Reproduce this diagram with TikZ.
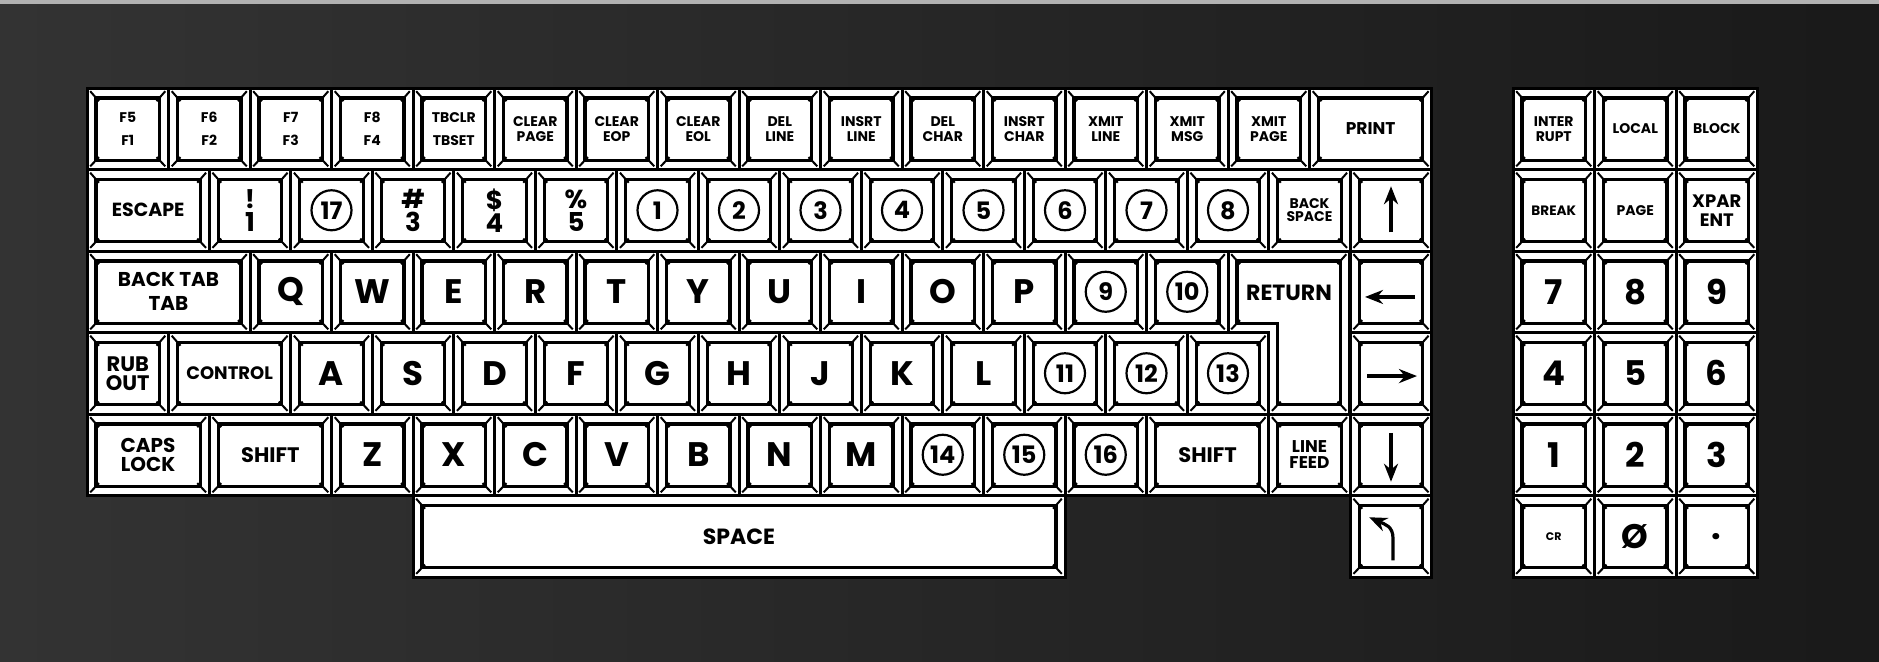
\documentclass[tikz,border=0pt]{standalone}
\usepackage{fontspec}
\setmainfont{Poppins}
\usetikzlibrary{arrows.meta,positioning}

\begin{document}
\begin{tikzpicture}[x=0.5pt,y=-0.5pt,>={Stealth[length=9pt,width=7pt]},
    keycap/.style={draw=black, line width=1.5pt, fill=white, inner sep=0pt, outer sep=0pt,
      minimum width={#1*40.75pt}, minimum height=40.75pt, align=center,
      path picture={
        \draw[line width=1.6pt] ([shift={(4.5pt,-5pt)}]path picture bounding box.north west)
          rectangle ([shift={(-4.5pt,4.6pt)}]path picture bounding box.south east);
        \draw[line width=1pt]
          ([shift={(1.6pt,-1.6pt)}]path picture bounding box.north west) -- ([shift={(6pt,-6.6pt)}]path picture bounding box.north west)
          ([shift={(-1.6pt,-1.6pt)}]path picture bounding box.north east) -- ([shift={(-6pt,-6.6pt)}]path picture bounding box.north east)
          ([shift={(1.6pt,1.6pt)}]path picture bounding box.south west) -- ([shift={(6pt,6.2pt)}]path picture bounding box.south west)
          ([shift={(-1.6pt,1.6pt)}]path picture bounding box.south east) -- ([shift={(-6pt,6.2pt)}]path picture bounding box.south east);
      }},
    keycap/.default=1,
    ring/.style={circle, draw=black, line width=1.1pt, minimum size=20pt, inner sep=0pt,
      font=\bfseries\fontsize{12}{12}\selectfont},
    tinylbl/.style={font=\bfseries\fontsize{7}{7.6}\selectfont},
    midlbl/.style={font=\bfseries\fontsize{10}{10}\selectfont},
    shiftnum/.style={font=\bfseries\fontsize{13}{11.5}\selectfont},
    letter/.style={font=\bfseries\fontsize{17}{17}\selectfont},
    arrowline/.style={line width=1.6pt,->}]
    % ---------- background ----------
    \useasboundingbox (0,0) rectangle (1879,661);
    \shade[left color=black!80, middle color=black, right color=black!90] (0,0) rectangle (1879,661);
    \fill[black!30] (0,0) rectangle (1879,4);
    % ---------- row 1: function keys ----------
    \node[keycap, tinylbl, anchor=north west] (kf5) at (87,88) {F5\\[4pt]F1};
    \node[keycap, tinylbl, right=0pt of kf5] (kf6) {F6\\[4pt]F2};
    \node[keycap, tinylbl, right=0pt of kf6] (kf7) {F7\\[4pt]F3};
    \node[keycap, tinylbl, right=0pt of kf7] (kf8) {F8\\[4pt]F4};
    \node[keycap, tinylbl, right=0pt of kf8] (ktab) {TBCLR\\[4pt]TBSET};
    \node[keycap, tinylbl, right=0pt of ktab] (kclrpage) {CLEAR\\PAGE};
    \node[keycap, tinylbl, right=0pt of kclrpage] (kclreop) {CLEAR\\EOP};
    \node[keycap, tinylbl, right=0pt of kclreop] (kclreol) {CLEAR\\EOL};
    \node[keycap, tinylbl, right=0pt of kclreol] (kdelline) {DEL\\LINE};
    \node[keycap, tinylbl, right=0pt of kdelline] (kinsline) {INSRT\\LINE};
    \node[keycap, tinylbl, right=0pt of kinsline] (kdelchar) {DEL\\CHAR};
    \node[keycap, tinylbl, right=0pt of kdelchar] (kinschar) {INSRT\\CHAR};
    \node[keycap, tinylbl, right=0pt of kinschar] (kxline) {XMIT\\LINE};
    \node[keycap, tinylbl, right=0pt of kxline] (kxmsg) {XMIT\\MSG};
    \node[keycap, tinylbl, right=0pt of kxmsg] (kxpage) {XMIT\\PAGE};
    \node[keycap=1.5, font=\bfseries\fontsize{8.5}{9}\selectfont, right=0pt of kxpage] (kprint) {PRINT};
    % ---------- row 2: numbers ----------
    \node[keycap=1.5, font=\bfseries\fontsize{9.5}{10}\selectfont, anchor=north west] (kesc) at (87,169.5) {ESCAPE};
    \node[keycap, shiftnum, right=0pt of kesc] (kone) {!\\1};
    \node[keycap, right=0pt of kone] (ktwo) {};
    \node[keycap, shiftnum, right=0pt of ktwo] (kthree) {\#\\3};
    \node[keycap, shiftnum, right=0pt of kthree] (kfour) {\$\\4};
    \node[keycap, shiftnum, right=0pt of kfour] (kfive) {\%\\5};
    \node[keycap, right=0pt of kfive] (kc1) {};
    \node[keycap, right=0pt of kc1] (kc2) {};
    \node[keycap, right=0pt of kc2] (kc3) {};
    \node[keycap, right=0pt of kc3] (kc4) {};
    \node[keycap, right=0pt of kc4] (kc5) {};
    \node[keycap, right=0pt of kc5] (kc6) {};
    \node[keycap, right=0pt of kc6] (kc7) {};
    \node[keycap, right=0pt of kc7] (kc8) {};
    \node[keycap, font=\bfseries\fontsize{7}{6.6}\selectfont, right=0pt of kc8] (kbksp) {BACK\\SPACE};
    \node[keycap, right=0pt of kbksp] (kup) {};
    % ---------- row 3: Q row ----------
    \node[keycap=2, midlbl, anchor=north west] (kbtab) at (87,251) {BACK TAB\\[2pt]TAB};
    \node[keycap, letter, right=0pt of kbtab] (kq) {Q};
    \node[keycap, letter, right=0pt of kq] (kw) {W};
    \node[keycap, letter, right=0pt of kw] (ke) {E};
    \node[keycap, letter, right=0pt of ke] (kr) {R};
    \node[keycap, letter, right=0pt of kr] (kt) {T};
    \node[keycap, letter, right=0pt of kt] (ky) {Y};
    \node[keycap, letter, right=0pt of ky] (ku) {U};
    \node[keycap, letter, right=0pt of ku] (ki) {I};
    \node[keycap, letter, right=0pt of ki] (ko) {O};
    \node[keycap, letter, right=0pt of ko] (kp) {P};
    \node[keycap, right=0pt of kp] (kc9) {};
    \node[keycap, right=0pt of kc9] (kc10) {};
    % ---------- row 4: A row ----------
    \node[keycap, font=\bfseries\fontsize{10.5}{9.5}\selectfont, anchor=north west] (krub) at (87,332.5) {RUB\\OUT};
    \node[keycap=1.5, font=\bfseries\fontsize{9}{9}\selectfont, right=0pt of krub] (kctrl) {CONTROL};
    \node[keycap, letter, right=0pt of kctrl] (ka) {A};
    \node[keycap, letter, right=0pt of ka] (ks) {S};
    \node[keycap, letter, right=0pt of ks] (kd) {D};
    \node[keycap, letter, right=0pt of kd] (kf) {F};
    \node[keycap, letter, right=0pt of kf] (kg) {G};
    \node[keycap, letter, right=0pt of kg] (kh) {H};
    \node[keycap, letter, right=0pt of kh] (kj) {J};
    \node[keycap, letter, right=0pt of kj] (kk) {K};
    \node[keycap, letter, right=0pt of kk] (kl) {L};
    \node[keycap, right=0pt of kl] (kc11) {};
    \node[keycap, right=0pt of kc11] (kc12) {};
    \node[keycap, right=0pt of kc12] (kc13) {};
    % ---------- row 5: Z row ----------
    \node[keycap=1.5, font=\bfseries\fontsize{10}{9.5}\selectfont, anchor=north west] (kcaps) at (87,414) {CAPS\\LOCK};
    \node[keycap=1.5, font=\bfseries\fontsize{10.5}{10.5}\selectfont, right=0pt of kcaps] (klshift) {SHIFT};
    \node[keycap, letter, right=0pt of klshift] (kz) {Z};
    \node[keycap, letter, right=0pt of kz] (kx) {X};
    \node[keycap, letter, right=0pt of kx] (kcc) {C};
    \node[keycap, letter, right=0pt of kcc] (kv) {V};
    \node[keycap, letter, right=0pt of kv] (kb) {B};
    \node[keycap, letter, right=0pt of kb] (kn) {N};
    \node[keycap, letter, right=0pt of kn] (km) {M};
    \node[keycap, right=0pt of km] (kc14) {};
    \node[keycap, right=0pt of kc14] (kc15) {};
    \node[keycap, right=0pt of kc15] (kc16) {};
    \node[keycap=1.5, font=\bfseries\fontsize{10.5}{10.5}\selectfont, right=0pt of kc16] (krshift) {SHIFT};
    \node[keycap, font=\bfseries\fontsize{8.5}{7.8}\selectfont, right=0pt of krshift] (klf) {LINE\\FEED};
    % ---------- row 6: space bar ----------
    \node[keycap=8, font=\bfseries\fontsize{11}{11}\selectfont, anchor=north west] (kspace) at (413,495.5) {SPACE};
    % ---------- return key (L shape) ----------
    \filldraw[fill=white, line width=1.5pt] (1228,251) -- (1349.5,251) -- (1349.5,414) -- (1268.75,414)
      -- (1268.75,332.5) -- (1228,332.5) -- cycle;
    \draw[line width=1.6pt] (1237,261) -- (1340.5,261) -- (1340.5,404.8) -- (1277.75,404.8)
      -- (1277.75,323.3) -- (1237,323.3) -- cycle;
    \draw[line width=1pt] (1231.2,254.2) -- (1240,264.2) (1346.3,254.2) -- (1337.5,264.2)
      (1346.3,410.8) -- (1337.5,401.6) (1271.95,410.8) -- (1280.75,401.6) (1231.2,329.3) -- (1240,320.1);
    \node[font=\bfseries\fontsize{11}{11}\selectfont] (kret) at (1289,293) {RETURN};
    % ---------- cursor column ----------
    \node[keycap, below=0pt of kup] (kleft) {};
    \node[keycap, below=0pt of kleft] (kright) {};
    \node[keycap, below=0pt of kright] (kdown) {};
    \node[keycap, below=0pt of kdown] (khome) {};
    \draw[arrowline] ([yshift=-11pt]kup.center) -- ([yshift=12pt]kup.center);
    \draw[arrowline] ([shift={(12pt,-2.6pt)}]kleft.center) -- ([shift={(-13pt,-2.6pt)}]kleft.center);
    \draw[arrowline] ([shift={(-12pt,-1.4pt)}]kright.center) -- ([shift={(13pt,-1.4pt)}]kright.center);
    \draw[arrowline] ([yshift=11pt]kdown.center) -- ([yshift=-13.5pt]kdown.center);
    \draw[arrowline] ([shift={(1pt,-12pt)}]khome.center) -- ([shift={(1pt,-1pt)}]khome.center)
      .. controls ([shift={(1pt,5pt)}]khome.center) and ([shift={(-3pt,6pt)}]khome.center) .. ([shift={(-11pt,9.5pt)}]khome.center);
    % ---------- circled keys ----------
    \node[ring] (r17) at (ktwo) {17};
    \node[ring] (r1) at (kc1) {1};
    \node[ring] (r2) at (kc2) {2};
    \node[ring] (r3) at (kc3) {3};
    \node[ring] (r4) at (kc4) {4};
    \node[ring] (r5) at (kc5) {5};
    \node[ring] (r6) at (kc6) {6};
    \node[ring] (r7) at (kc7) {7};
    \node[ring] (r8) at (kc8) {8};
    \node[ring] (r9) at (kc9) {9};
    \node[ring] (r10) at (kc10) {10};
    \node[ring] (r11) at (kc11) {11};
    \node[ring] (r12) at (kc12) {12};
    \node[ring] (r13) at (kc13) {13};
    \node[ring] (r14) at (kc14) {14};
    \node[ring] (r15) at (kc15) {15};
    \node[ring] (r16) at (kc16) {16};
    % ---------- keypad ----------
    \node[keycap, tinylbl, anchor=north west] (kintr) at (1513,88) {INTER\\RUPT};
    \node[keycap, tinylbl, right=0pt of kintr] (klocal) {LOCAL};
    \node[keycap, tinylbl, right=0pt of klocal] (kblock) {BLOCK};
    \node[keycap, font=\bfseries\fontsize{6.8}{7}\selectfont, anchor=north west] (kbreak) at (1513,169.5) {BREAK};
    \node[keycap, tinylbl, right=0pt of kbreak] (kpage) {PAGE};
    \node[keycap, font=\bfseries\fontsize{9}{9.5}\selectfont, right=0pt of kpage] (kxpar) {XPAR\\ENT};
    \node[keycap, letter, anchor=north west] (kp7) at (1513,251) {7};
    \node[keycap, letter, right=0pt of kp7] (kp8) {8};
    \node[keycap, letter, right=0pt of kp8] (kp9) {9};
    \node[keycap, letter, anchor=north west] (kp4) at (1513,332.5) {4};
    \node[keycap, letter, right=0pt of kp4] (kp5) {5};
    \node[keycap, letter, right=0pt of kp5] (kp6) {6};
    \node[keycap, letter, anchor=north west] (kp1) at (1513,414) {1};
    \node[keycap, letter, right=0pt of kp1] (kp2) {2};
    \node[keycap, letter, right=0pt of kp2] (kp3) {3};
    \node[keycap, font=\bfseries\fontsize{5.5}{6}\selectfont, anchor=north west] (kcr) at (1513,495.5) {CR};
    \node[keycap, letter, right=0pt of kcr] (kp0) {Ø};
    \node[keycap, letter, right=0pt of kp0] (kpdot) {.};
\end{tikzpicture}
\end{document}
